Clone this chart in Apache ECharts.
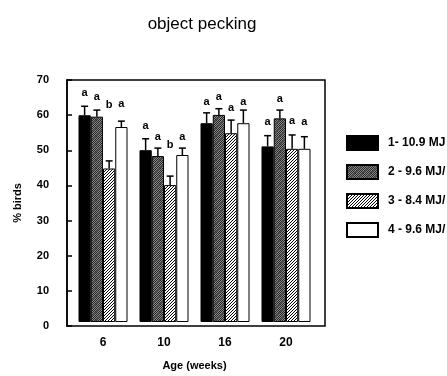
<!DOCTYPE html>
<html>
<head>
<meta charset="utf-8">
<script src="https://cdn.jsdelivr.net/npm/echarts@6/dist/echarts.min.js"></script>
<style>
html, body { margin: 0; background: #fff; }
#chart { width: 447px; height: 376px; }
</style>
</head>
<body>
<div id="chart"></div>
<script>
// data
const ages = ['6', '10', '16', '20']
const diets = ['1- 10.9 MJ', '2 - 9.6 MJ/', '3 - 8.4 MJ/', '4 - 9.6 MJ/']
const means = [
	[59.8, 49.7, 57.5, 50.8],
	[59.4, 48.0, 59.9, 58.9],
	[44.4, 39.6, 54.6, 50.1],
	[56.4, 48.3, 57.5, 50.1]
]
const errTops = [
	[62.4, 53.0, 60.5, 53.9],
	[61.3, 50.3, 61.7, 61.3],
	[46.6, 42.2, 58.4, 54.1],
	[58.1, 50.3, 61.3, 53.6]
]
const letters = [
	['a', 'a', 'a', 'a'],
	['a', 'a', 'a', 'a'],
	['b', 'b', 'a', 'a'],
	['a', 'a', 'a', 'a']
]
// height of each significance letter, in % birds
const letterY = [
	[66.3, 56.6, 63.7, 57.8],
	[65.1, 53.5, 65.1, 64.6],
	[62.9, 51.2, 61.8, 58.1],
	[63.2, 53.5, 63.7, 57.8]
]
const yTicks = [0, 10, 20, 30, 40, 50, 60, 70]

const barWidth = 12.25

function makePattern(size, draw) {
	const c = document.createElement('canvas')
	c.width = size
	c.height = size
	const ctx = c.getContext('2d')
	draw(ctx, size)
	return { image: c, repeat: 'repeat' }
}

const fills = [
	'#000',
	makePattern(8, (ctx, n) => {
		ctx.fillStyle = '#8a8a8a'
		ctx.fillRect(0, 0, n, n)
		ctx.fillStyle = '#222'
		for (let y = 0; y < n; y++) {
			for (let x = 0; x < n; x++) {
				if ((x + y) % 2 === 0) ctx.fillRect(x, y, 1, 1)
			}
		}
		ctx.strokeStyle = '#555'
		ctx.lineWidth = 1.5
		ctx.beginPath()
		ctx.moveTo(0, n)
		ctx.lineTo(n, 0)
		ctx.stroke()
	}),
	makePattern(9, (ctx, n) => {
		ctx.fillStyle = '#fff'
		ctx.fillRect(0, 0, n, n)
		ctx.strokeStyle = '#000'
		ctx.lineWidth = 1
		ctx.beginPath()
		for (let k = -n; k <= 2 * n; k += 3) {
			ctx.moveTo(k, n)
			ctx.lineTo(k + n, 0)
		}
		ctx.stroke()
	}),
	'#fff'
]

function errorBars(s) {
	return function (params, api) {
		const i = api.value(0)
		const base = api.coord([i, api.value(1)])
		const top = api.coord([i, api.value(2)])
		const lab = api.coord([i, api.value(3)])
		const cx = base[0] + (s - 1.5) * barWidth
		return {
			type: 'group',
			children: [
				{
					type: 'line',
					shape: { x1: cx, y1: base[1], x2: cx, y2: top[1] },
					style: { stroke: '#000', lineWidth: 1.5 }
				},
				{
					type: 'line',
					shape: { x1: cx - 3.5, y1: top[1], x2: cx + 3.5, y2: top[1] },
					style: { stroke: '#000', lineWidth: 1.5 }
				},
				{
					type: 'text',
					x: cx,
					y: lab[1],
					style: {
						text: letters[s][params.dataIndex],
						fill: '#000',
						font: 'bold 11px "Liberation Sans", Arial, sans-serif',
						align: 'center',
						verticalAlign: 'middle'
					}
				}
			]
		}
	}
}

const chart = echarts.init(document.getElementById('chart'))

const series = []
diets.forEach((name, s) => {
	series.push({
		name: name,
		type: 'bar',
		xAxisIndex: 1,
		yAxisIndex: 1,
		barWidth: barWidth,
		barGap: '0%',
		itemStyle: {
			color: fills[s],
			borderColor: '#000',
			borderWidth: 1
		},
		data: means[s]
	})
})
diets.forEach((name, s) => {
	series.push({
		type: 'custom',
		xAxisIndex: 1,
		yAxisIndex: 1,
		z: 5,
		renderItem: errorBars(s),
		data: ages.map((a, i) => [i, means[s][i], errTops[s][i], letterY[s][i]])
	})
})

const option = {
	animation: false,
	title: {
		text: 'object pecking',
		left: 197,
		top: 11,
		textAlign: 'center',
		textStyle: {
			color: '#000',
			fontSize: 17,
			fontWeight: 'normal',
			fontFamily: 'Liberation Sans'
		}
	},
	legend: {
		data: diets,
		orient: 'vertical',
		left: 341,
		top: 130,
		itemWidth: 31,
		itemHeight: 14,
		itemGap: 13,
		icon: 'rect',
		textStyle: {
			color: '#000',
			fontSize: 12,
			fontWeight: 'bold',
			fontFamily: 'Liberation Sans',
			padding: [0, 0, 0, 5]
		}
	},
	grid: [
		// frame
		{ left: 67, right: 122, top: 80, bottom: 50, show: true, borderColor: '#000', borderWidth: 1.5 },
		// bars
		{ left: 72.5, width: 244, top: 80, bottom: 50 }
	],
	xAxis: [
		{ gridIndex: 0, type: 'value', show: false },
		{
			gridIndex: 1,
			type: 'category',
			data: ages,
			axisLine: { show: false },
			axisTick: { show: false },
			axisLabel: {
				color: '#000',
				fontSize: 12,
				fontWeight: 'bold',
				fontFamily: 'Liberation Sans',
				margin: 15
			},
			name: 'Age (weeks)',
			nameLocation: 'middle',
			nameGap: 38,
			nameTextStyle: {
				color: '#000',
				fontSize: 11,
				fontWeight: 'bold',
				fontFamily: 'Liberation Sans'
			}
		}
	],
	yAxis: [
		{
			gridIndex: 0,
			type: 'value',
			min: yTicks[0],
			max: yTicks[yTicks.length - 1],
			interval: 10,
			splitLine: { show: false },
			axisLine: { show: true, lineStyle: { color: '#000', width: 1.5 } },
			axisTick: { show: true, inside: true, length: 5, lineStyle: { color: '#000', width: 1.5 } },
			axisLabel: {
				color: '#000',
				fontSize: 11,
				fontWeight: 'bold',
				fontFamily: 'Liberation Sans',
				margin: 18
			},
			name: '% birds',
			nameLocation: 'middle',
			nameGap: 44,
			nameRotate: 90,
			nameTextStyle: {
				color: '#000',
				fontSize: 11,
				fontWeight: 'bold',
				fontFamily: 'Liberation Sans'
			}
		},
		{ gridIndex: 1, type: 'value', min: 0, max: 70, show: false }
	],
	series: series
}

chart.setOption(option)
</script>
</body>
</html>
